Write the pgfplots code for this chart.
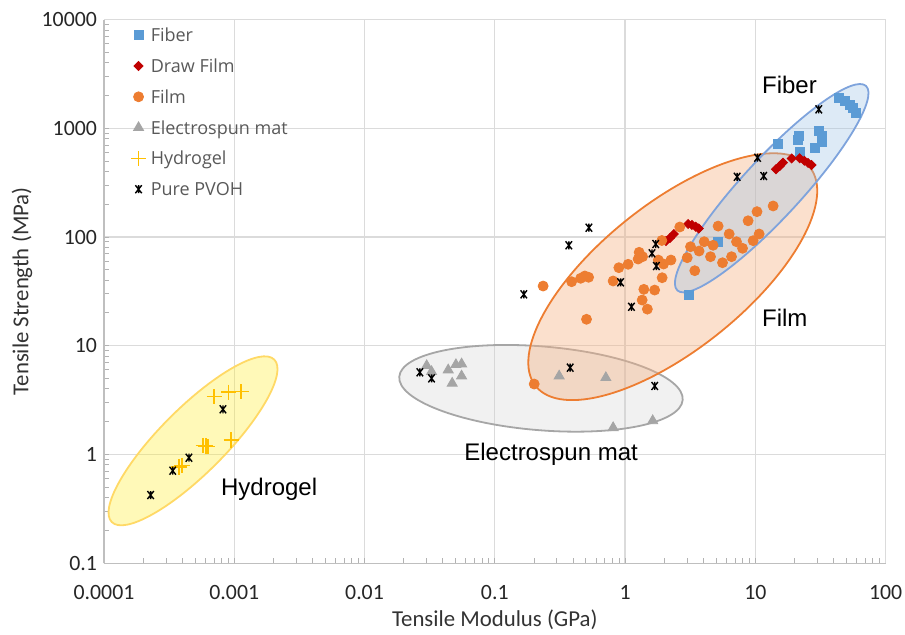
\documentclass[border=0pt]{standalone}
\usepackage{fontspec}
\setmainfont{Carlito}
\newfontfamily\legendfont{Open Sans}
\newfontfamily\notefont{Liberation Sans}
\usepackage{pgfplots}
\pgfplotsset{compat=1.18}
\usetikzlibrary{shapes.geometric}

\definecolor{fiberblue}{HTML}{5B9BD5}
\definecolor{drawred}{HTML}{C00000}
\definecolor{filmorange}{HTML}{ED7D31}
\definecolor{esgray}{HTML}{A5A5A5}
\definecolor{hydroyellow}{HTML}{FFC000}
\definecolor{ellyellowfill}{HTML}{FFEE33}
\definecolor{ellyellowline}{HTML}{FFD966}
\definecolor{ellgrayfill}{HTML}{D0D0D0}
\definecolor{ellgrayline}{HTML}{A6A6A6}
\definecolor{ellorangefill}{HTML}{F4B183}
\definecolor{ellbluefill}{HTML}{9DC3E6}
\definecolor{ellblueline}{HTML}{7EA3DC}

% asterisk-like marker: an x crossed by a vertical stroke
\pgfdeclareplotmark{pvstar}{%
  \pgfpathmoveto{\pgfqpoint{-0.8\pgfplotmarksize}{-\pgfplotmarksize}}%
  \pgfpathlineto{\pgfqpoint{0.8\pgfplotmarksize}{\pgfplotmarksize}}%
  \pgfpathmoveto{\pgfqpoint{-0.8\pgfplotmarksize}{\pgfplotmarksize}}%
  \pgfpathlineto{\pgfqpoint{0.8\pgfplotmarksize}{-\pgfplotmarksize}}%
  \pgfpathmoveto{\pgfqpoint{0pt}{-\pgfplotmarksize}}%
  \pgfpathlineto{\pgfqpoint{0pt}{\pgfplotmarksize}}%
  \pgfusepathqstroke}

\pgfplotsset{
  lgmark/.style={legend image code/.code={\draw[##1] plot coordinates {(0pt,3.2pt)};}},
}

\begin{document}
\begin{tikzpicture}
\useasboundingbox (-52pt,-35.45pt) rectangle (400.5pt,281.55pt);
\begin{axis}[
  scale only axis,
  width=390.8pt, height=271.75pt,
  xmode=log, ymode=log,
  xmin=1e-4, xmax=100, ymin=0.1, ymax=10000,
  axis lines=left,
  axis line style={-, draw=black!25, line width=0.6pt},
  grid=major,
  major grid style={draw=black!14, line width=0.6pt},
  tick align=inside,
  major tick length=0pt,
  minor tick length=2.5pt,
  minor tick style={draw=black!30, line width=0.5pt},
  xtick={1e-4,1e-3,1e-2,1e-1,1,10,100},
  xticklabels={0.0001,0.001,0.01,0.1,1,10,100},
  ytick={0.1,1,10,100,1000,10000},
  yticklabels={0.1,1,10,100,1000,10000},
  xticklabel style={font=\fontsize{10.9}{12}\selectfont, text=black!85, yshift=-7.5pt},
  yticklabel style={font=\fontsize{10.9}{12}\selectfont, text=black!85},
  xlabel={Tensile Modulus (GPa)},
  ylabel={Tensile Strength (MPa)},
  xlabel style={at={(axis description cs:0.5,-0.105)}, anchor=center,
    font=\fontsize{11.4}{13}\selectfont, text=black!80},
  ylabel style={at={(axis description cs:-0.105,0.5)}, anchor=center,
    font=\fontsize{11.4}{13}\selectfont, text=black!80},
  legend cell align=left,
  legend style={at={(axis description cs:0.034,0.986)}, anchor=north west,
    draw=none, fill=none, inner sep=0pt, row sep=6.9pt, column sep=2.3pt,
    font=\legendfont\fontsize{9}{10}\selectfont, text=black!65,
    nodes={inner sep=0pt, text height=7pt, text depth=1.5pt, anchor=base west}},
]

% Fiber
\addplot[only marks, mark=square*, mark size=2.25pt,
  mark options={draw=fiberblue, fill=fiberblue}, lgmark] table {
x y
43.7 1888
48.6 1783
53.1 1655
56.0 1528
59.1 1374
14.96 717
21.6 850
21.1 781
21.9 609
30.9 944
32.6 850
32.2 753
28.6 663
5.18 90.5
3.07 29.3
};
\addlegendentry{Fiber}

% Draw Film
\addplot[only marks, mark=square*, mark size=1.6pt,
  mark options={draw=drawred, fill=drawred, rotate=45}, lgmark] table {
x y
2.06 91.9
2.21 97.9
2.37 106.6
3.05 131.7
3.26 129
3.49 124.4
3.68 119.7
14.4 420
15.4 450
16.3 483
19.0 528
21.9 530
23.8 503
25.4 480
27.0 460
};
\addlegendentry{Draw Film}

% Film
\addplot[only marks, mark=*, mark size=2.5pt,
  mark options={draw=filmorange, fill=filmorange}, lgmark] table {
x y
0.2007 4.44
0.235 35.4
0.389 38.8
0.456 41.7
0.491 43.8
0.525 42.6
0.506 17.5
0.810 39.4
0.896 52.2
1.056 56.1
1.283 72.3
1.26 62.7
1.363 65.9
1.394 33.0
1.353 26.3
1.483 21.7
1.687 32.5
1.926 42.2
1.975 56.4
2.25 61.4
1.80 61.4
1.916 92.9
2.63 123.6
13.7 193
10.3 171
8.80 141
5.18 126
6.30 106.6
10.7 106.6
4.05 90.5
4.74 83.9
7.17 90.5
9.62 92.5
3.70 74.3
4.53 65.9
7.98 78.7
5.60 58.0
6.57 65.9
3.00 64.5
3.43 49.0
3.18 81.4
};
\addlegendentry{Film}

% Electrospun mat
\addplot[only marks, mark=triangle*, mark size=2.9pt,
  mark options={draw=esgray, fill=esgray}, lgmark] table {
x y
0.0300 6.55
0.0327 5.77
0.0439 5.98
0.0503 6.69
0.0556 6.79
0.0556 5.26
0.0471 4.51
0.312 5.26
0.712 5.08
0.810 1.76
1.63 2.04
};
\addlegendentry{Electrospun mat}

% Hydrogel
\addplot[only marks, mark=+, mark size=3.8pt,
  mark options={draw=hydroyellow, line width=0.8pt}, lgmark] table {
x y
0.000702 3.40
0.000906 3.73
0.00113 3.78
0.000578 1.21
0.000604 1.195
0.000626 1.18
0.000948 1.357
0.000397 0.79
0.000376 0.766
};
\addlegendentry{Hydrogel}

% Pure PVOH
\addplot[only marks, mark=pvstar, mark size=2pt,
  mark options={draw=black, line width=0.7pt}, lgmark] table {
x y
0.000228 0.423
0.000337 0.708
0.000449 0.932
0.000819 2.60
0.0266 5.69
0.0327 5.01
0.379 6.28
1.69 4.26
30.7 1495
10.4 536
7.25 358
11.6 364
0.528 121.8
0.370 83.9
0.167 29.7
1.72 86.2
1.61 70.8
1.74 54.1
0.924 38.3
1.12 22.8
};
\addlegendentry{Pure PVOH}

% translucent group outlines
\node[ellipse, draw=ellyellowline, line width=0.9pt, fill=ellyellowfill, fill opacity=0.35,
  inner sep=0pt, minimum width=114.9pt, minimum height=32.7pt, rotate=45]
  at (rel axis cs:0.1139,0.2250) {};
\node[ellipse, draw=ellgrayline, line width=0.9pt, fill=ellgrayfill, fill opacity=0.3,
  inner sep=0pt, minimum width=142.2pt, minimum height=41.9pt, rotate=-4.7]
  at (rel axis cs:0.5591,0.3216) {};
\node[ellipse, draw=filmorange, line width=0.9pt, fill=ellorangefill, fill opacity=0.4,
  inner sep=0pt, minimum width=175.4pt, minimum height=73pt, rotate=38.6]
  at (rel axis cs:0.7277,0.5270) {};
\node[ellipse, draw=ellblueline, line width=0.9pt, fill=ellbluefill, fill opacity=0.35,
  inner sep=0pt, minimum width=139.1pt, minimum height=29.5pt, rotate=47.3]
  at (rel axis cs:0.8543,0.6898) {};

% group names
\node[anchor=base west, inner sep=0pt, font=\notefont\fontsize{12}{14}\selectfont]
  at (rel axis cs:0.8415,0.8644) {Fiber};
\node[anchor=base west, inner sep=0pt, font=\notefont\fontsize{12}{14}\selectfont]
  at (rel axis cs:0.8415,0.4350) {Film};
\node[anchor=base west, inner sep=0pt, font=\notefont\fontsize{12}{14}\selectfont]
  at (rel axis cs:0.4606,0.1884) {Electrospun mat};
\node[anchor=base west, inner sep=0pt, font=\notefont\fontsize{12}{14}\selectfont]
  at (rel axis cs:0.1493,0.1235) {Hydrogel};
\end{axis}
\end{tikzpicture}
\end{document}
